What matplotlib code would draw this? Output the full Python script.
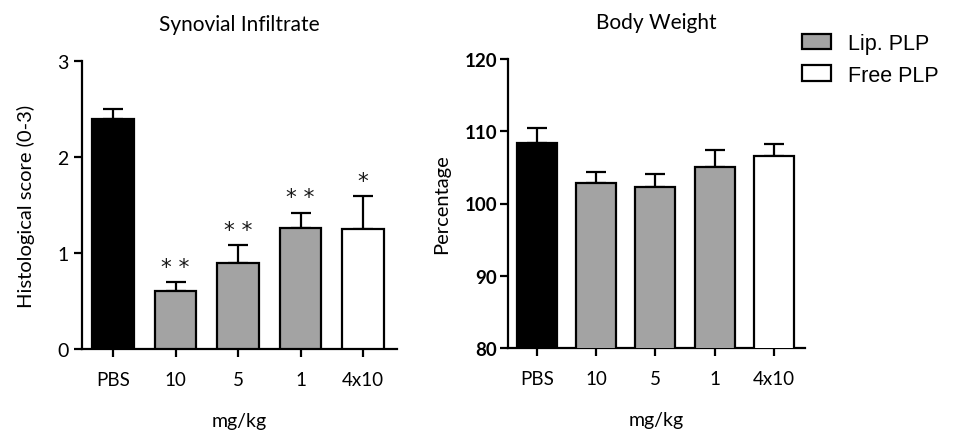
import matplotlib
matplotlib.use("Agg")
import matplotlib.pyplot as plt
from matplotlib.patches import Patch

categories = ["PBS", "10", "5", "1", "4x10"]
groups = ["PBS", "Lip. PLP", "Lip. PLP", "Lip. PLP", "Free PLP"]
synovial_mean = [2.40, 0.60, 0.90, 1.26, 1.25]
synovial_sem = [0.10, 0.10, 0.18, 0.16, 0.34]
synovial_stars = ["", "**", "**", "**", "*"]
weight_mean = [108.4, 102.9, 102.3, 105.0, 106.6]
weight_sem = [2.1, 1.5, 1.8, 2.4, 1.7]
group_colors = {"PBS": "#000000", "Lip. PLP": "#a3a3a3", "Free PLP": "#ffffff"}

font_main = ["Lato", "DejaVu Sans"]
font_leg = ["Liberation Sans", "DejaVu Sans"]
font_star = ["DejaVu Sans"]

fig = plt.figure(figsize=(9.75, 4.31), dpi=100)

LW = 1.6

def style_axes(ax):
    for s in ["top", "right"]:
        ax.spines[s].set_visible(False)
    for s in ["left", "bottom"]:
        ax.spines[s].set_linewidth(LW)
    ax.tick_params(axis="both", direction="out", length=6, width=LW)
    ax.tick_params(axis="x", pad=10)

colors = [group_colors[g] for g in groups]
x = list(range(len(categories)))

# Left panel
ax1 = fig.add_axes([82/975, 1-350/431, 315/975, 288/431])
ax1.bar(x, synovial_mean, width=0.67, color=colors, edgecolor="black", linewidth=LW, zorder=3)
ax1.errorbar(x, synovial_mean, yerr=[[0]*5, synovial_sem], fmt="none", ecolor="black",
             elinewidth=LW, capsize=7.5, capthick=LW, zorder=2)
for xi, m, e, s in zip(x, synovial_mean, synovial_sem, synovial_stars):
    if s:
        ax1.annotate(" ".join(s), xy=(xi, m + e), xytext=(0, 11), textcoords="offset points",
                     ha="center", va="center", fontsize=15.5, family=font_star, color="#1a1a1a")
ax1.set_xlim(-0.496, 4.544)
ax1.set_ylim(0, 3)
ax1.set_yticks([0, 1, 2, 3])
ax1.set_xticks(x)
ax1.set_xticklabels(categories, family=font_main, fontsize=13.5)
for t in ax1.get_yticklabels():
    t.set_family(font_main); t.set_fontsize(14)
ax1.set_title("Synovial Infiltrate", family=font_main, fontsize=15, pad=22)
ax1.set_xlabel("mg/kg", family=font_main, fontsize=14, labelpad=17)
ax1.set_ylabel("Histological score (0-3)", family=font_main, fontsize=14.5, labelpad=16)
style_axes(ax1)

# Right panel
ax2 = fig.add_axes([508/975, 1-349/431, 297/975, 289/431])
ax2.bar(x, weight_mean, width=0.675, color=colors, edgecolor="black", linewidth=LW, zorder=3)
ax2.errorbar(x, weight_mean, yerr=[[0]*5, weight_sem], fmt="none", ecolor="black",
             elinewidth=LW, capsize=7.5, capthick=LW, zorder=2)
ax2.set_xlim(-0.489, 4.523)
ax2.set_ylim(80, 120)
ax2.set_yticks([80, 90, 100, 110, 120])
ax2.set_xticks(x)
ax2.set_xticklabels(categories, family=font_main, fontsize=13.5)
ax2.tick_params(axis="y", pad=2)
for t in ax2.get_yticklabels():
    t.set_family(font_main); t.set_fontsize(13.5); t.set_fontweight("bold")
ax2.set_title("Body Weight", family=font_main, fontsize=15, pad=22)
ax2.set_xlabel("mg/kg", family=font_main, fontsize=14, labelpad=17)
ax2.set_ylabel("Percentage", family=font_main, fontsize=14.5, labelpad=10)
style_axes(ax2)
ax2.tick_params(axis="y", pad=2)

handles = [Patch(facecolor=group_colors["Lip. PLP"], edgecolor="black", linewidth=LW),
           Patch(facecolor=group_colors["Free PLP"], edgecolor="black", linewidth=LW)]
fig.legend(handles, ["Lip. PLP", "Free PLP"], loc="upper left",
           bbox_to_anchor=(802/975, 1-34/431), frameon=False,
           prop={"family": font_leg, "size": 15.5}, handlelength=1.35, handleheight=0.75,
           labelspacing=0.5, handletextpad=0.8, borderaxespad=0, borderpad=0)

fig.savefig("out.png", dpi=100)
